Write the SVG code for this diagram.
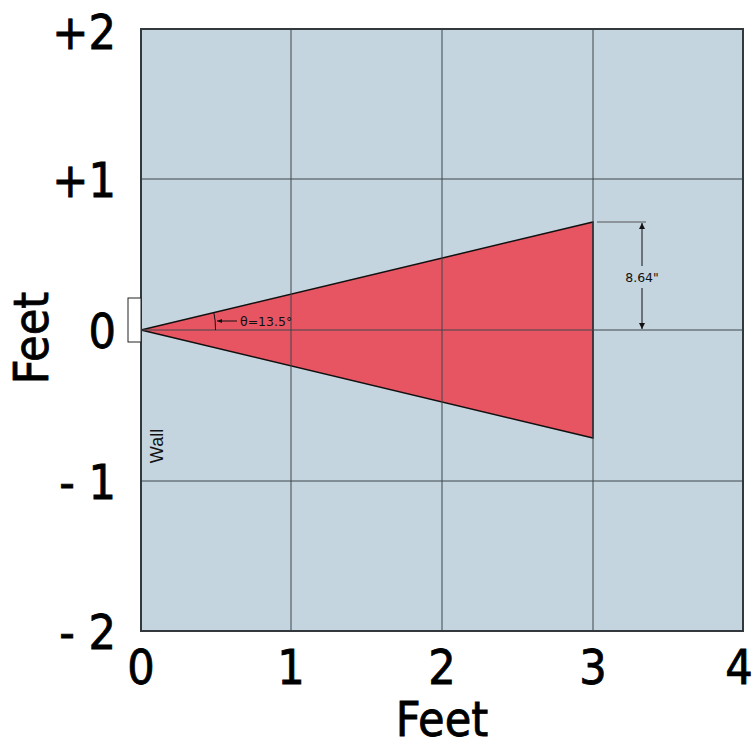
<svg xmlns="http://www.w3.org/2000/svg" width="755" height="748" viewBox="0 0 755 748">
<defs>
<marker id="ah" viewBox="0 0 10 10" refX="10" refY="5" markerWidth="6" markerHeight="8" orient="auto-start-reverse" markerUnits="userSpaceOnUse"><path d="M0,0 L10,5 L0,10 z" fill="#111"/></marker>
<marker id="ahs" viewBox="0 0 10 10" refX="10" refY="5" markerWidth="5" markerHeight="5" orient="auto" markerUnits="userSpaceOnUse"><path d="M0,1 L10,5 L0,9 z" fill="#111"/></marker>
</defs>
<style>
.ax{font-family:"DejaVu Sans Condensed","DejaVu Sans",sans-serif;font-size:48px;fill:#000;stroke:#000;stroke-width:0.8}
.grid{stroke:#3e464c;stroke-width:1;fill:none}
.small{font-family:"DejaVu Sans","Liberation Sans",sans-serif;font-size:12.5px;fill:#111}
</style>
<rect width="755" height="748" fill="#fff"/>
<g id="plot">
<rect x="141" y="29" width="602" height="602" fill="#c5d5df"/>
</g>
<g id="cone">
<polygon points="141,330 593,222 593,438" fill="#e85562" stroke="#111" stroke-width="1.5"/>
</g>
<g id="grid" class="grid">
<line x1="291" y1="29" x2="291" y2="631"/>
<line x1="442" y1="29" x2="442" y2="631"/>
<line x1="593" y1="29" x2="593" y2="631"/>
<line x1="141" y1="179" x2="743" y2="179"/>
<line x1="141" y1="330" x2="743" y2="330"/>
<line x1="141" y1="481" x2="743" y2="481"/>
</g>
<rect x="141" y="29" width="602" height="602" fill="none" stroke="#33383d" stroke-width="2"/>
<g id="wall">
<rect x="128" y="298" width="13" height="44" fill="#fff" stroke="#222" stroke-width="1"/>
<text transform="translate(163,446) rotate(-90)" text-anchor="middle" font-family="Liberation Sans, sans-serif" font-size="18" fill="#111">Wall</text>
</g>
<g id="angle">
<path d="M 215.5,330 A 75 75 0 0 0 213.8,312.3" fill="none" stroke="#111" stroke-width="1"/>
<line x1="237" y1="321" x2="217" y2="321" stroke="#111" stroke-width="1" marker-end="url(#ahs)"/>
<text class="small" x="240" y="326" fill="#2a0a0a">θ=13.5°</text>
</g>
<g id="dimension">
<line x1="597" y1="222" x2="646" y2="222" stroke="#555" stroke-width="1"/>
<line x1="642" y1="223" x2="642" y2="266" stroke="#111" stroke-width="1" marker-start="url(#ah)"/>
<line x1="642" y1="288" x2="642" y2="329" stroke="#111" stroke-width="1" marker-end="url(#ah)"/>
<text class="small" x="642" y="282" text-anchor="middle">8.64"</text>
</g>
<g id="labels">
<text class="ax" x="116" y="49" text-anchor="end">+2</text>
<text class="ax" x="116" y="197" text-anchor="end">+1</text>
<text class="ax" x="116" y="348" text-anchor="end">0</text>
<text class="ax" x="116" y="499" text-anchor="end" xml:space="preserve">- 1</text>
<text class="ax" x="116" y="649" text-anchor="end" xml:space="preserve">- 2</text>
<text class="ax" x="141" y="684" text-anchor="middle">0</text>
<text class="ax" x="291" y="684" text-anchor="middle">1</text>
<text class="ax" x="442" y="684" text-anchor="middle">2</text>
<text class="ax" x="593" y="684" text-anchor="middle">3</text>
<text class="ax" x="739" y="684" text-anchor="middle">4</text>
<text class="ax" x="442" y="736" text-anchor="middle">Feet</text>
<text class="ax" transform="translate(48,338) rotate(-90)" text-anchor="middle">Feet</text>
</g>
</svg>
